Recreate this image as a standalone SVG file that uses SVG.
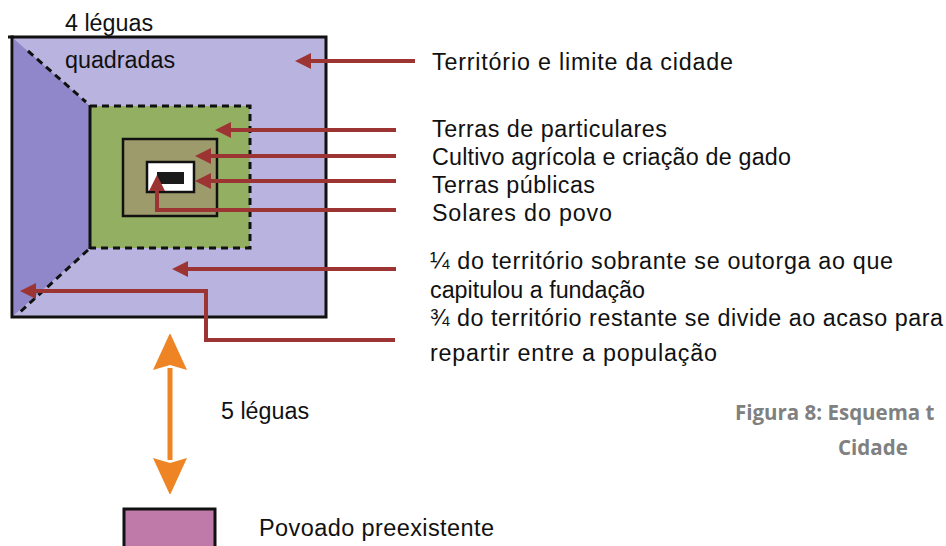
<svg xmlns="http://www.w3.org/2000/svg" width="946" height="546" viewBox="0 0 946 546">
<style>
.t{font-family:"Liberation Sans",Arial,sans-serif;font-size:23.3px;fill:#111}
.big{font-size:23.3px}
.pv{font-size:23.5px}
.cap{font-family:"Open Sans","Liberation Sans",sans-serif;font-size:20.5px;font-weight:bold;fill:#808080}
.red{fill:none;stroke:#9c3434;stroke-width:4;marker-end:url(#rh)}
.dash{fill:none;stroke:#111;stroke-width:3;stroke-dasharray:7 5}
.solid{fill:none;stroke:#111;stroke-width:3}
</style>
<defs>
<marker id="rh" markerUnits="userSpaceOnUse" viewBox="0 0 16 16" refX="1" refY="8" markerWidth="16" markerHeight="16" orient="auto">
<path d="M0,0 L16,8 L0,16 z" fill="#9c3434"/>
</marker>
<marker id="oh" markerUnits="userSpaceOnUse" viewBox="0 0 36 38" refX="2" refY="18" markerWidth="36" markerHeight="38" orient="auto-start-reverse">
<path d="M0,1 L37,18 L0,35 L5,18 z" fill="#ee8423"/>
</marker>
</defs>

<g id="territorio">
<rect x="12" y="37" width="314" height="280" fill="#b9b3df"/>
<polygon points="14,39 90,106 90,248 14,315" fill="#8f87c9"/>
<line class="dash" x1="28" y1="51" x2="86" y2="102"/>
<line class="dash" x1="88" y1="250" x2="20" y2="312"/>
<rect x="12" y="37" width="314" height="280" class="solid"/>
<line x1="8" y1="37" x2="14" y2="37" stroke="#111" stroke-width="3"/>
</g>

<g id="terras-particulares">
<rect x="90" y="106" width="160" height="142" fill="#93b062"/>
<path class="dash" d="M90,106 H250 V248 H90"/>
<line class="solid" x1="90" y1="105" x2="90" y2="249"/>
</g>

<g id="cultivo">
<rect x="123" y="139" width="94" height="77" fill="#9d9a6b" stroke="#111" stroke-width="2.5"/>
</g>

<g id="terras-publicas">
<rect x="147" y="162" width="47" height="30" fill="#fff" stroke="#111" stroke-width="2.5"/>
</g>

<g id="solares">
<rect x="157" y="172" width="27" height="12" fill="#1a1a1a"/>
</g>

<g id="povoado">
<rect x="124" y="509" width="91" height="50" fill="#c07aa9" stroke="#111" stroke-width="3"/>
</g>

<g id="connectors">
<path class="red" d="M415,61 H310"/>
<path class="red" d="M396,130 H230"/>
<path class="red" d="M396,156 H210"/>
<path class="red" d="M396,181 H210"/>
<path class="red" d="M396,210 H157 V190"/>
<path class="red" d="M396,269 H187"/>
<path class="red" d="M395,340 H206 V291 H35"/>
<line x1="170" y1="368" x2="170" y2="460" stroke="#ee8423" stroke-width="5" marker-start="url(#oh)" marker-end="url(#oh)"/>
</g>

<g id="labels">
<text class="t big" x="65" y="31">4 léguas</text>
<text class="t big" x="65" y="68">quadradas</text>
<text class="t" x="432" y="70" textLength="301">Território e limite da cidade</text>
<text class="t" x="432" y="137" textLength="235">Terras de particulares</text>
<text class="t" x="432" y="165" textLength="359">Cultivo agrícola e criação de gado</text>
<text class="t" x="432" y="193" textLength="163">Terras públicas</text>
<text class="t" x="432" y="221" textLength="180">Solares do povo</text>
<text class="t" x="430" y="269" textLength="463">¼ do território sobrante se outorga ao que</text>
<text class="t" x="430" y="298">capitulou a fundação</text>
<text class="t" x="430" y="326" textLength="513">¾ do território restante se divide ao acaso para</text>
<text class="t" x="430" y="361" textLength="287">repartir entre a população</text>
<text class="t big" x="221" y="419">5 léguas</text>
<text class="t pv" x="259" y="536" textLength="235">Povoado preexistente</text>
<text class="cap" x="735" y="420">Figura 8: Esquema t</text>
<text class="cap" x="838" y="455">Cidade</text>
</g>
</svg>
